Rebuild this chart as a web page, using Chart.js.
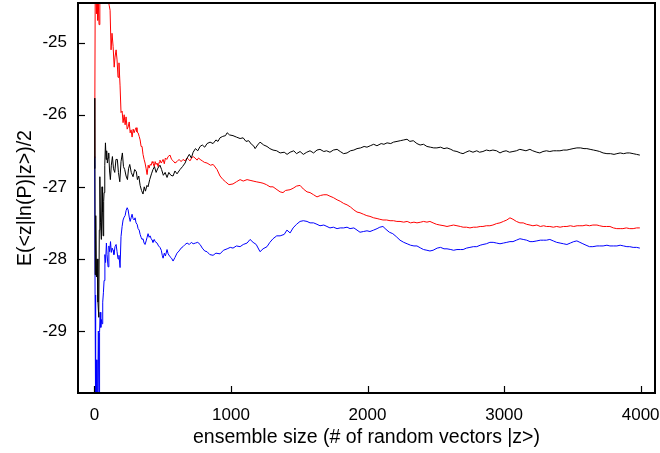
<!DOCTYPE html>
<html>
<head>
<meta charset="utf-8">
<script src="https://cdn.jsdelivr.net/npm/chart.js@4/dist/chart.umd.min.js"></script>
<style>
html,body{margin:0;padding:0;background:#fff;}
#c{display:block;}
</style>
</head>
<body>
<canvas id="c" width="660" height="453"></canvas>
<script>
// ---- data (x = ensemble size, y = running estimate) ----
const xTicks = [0, 1000, 2000, 3000, 4000];
const yTicks = [-29, -28, -27, -26, -25];
const xTitle = 'ensemble size (# of random vectors |z>)';
const yTitle = 'E(<z|ln(P)|z>)/2';

const blackPoints = [[1,-26.75],[3,-25.77],[6,-28.22],[10,-27.4],[15,-28.25],[20,-28.0],[26,-28.6],[32,-28.81],[36,-27.6],[40,-26.86],[45,-27.5],[51,-27.73],[56,-27.0],[60,-27.35],[64,-27.68],[68,-27.2],[71,-27.08],[76,-26.7],[81,-26.39],[86,-26.62],[90,-26.5],[95,-26.67],[100,-26.6],[105,-26.53],[111,-26.78],[117,-26.9],[124,-26.7],[132,-26.58],[140,-26.75],[149,-26.8],[158,-26.62],[168,-26.62],[176,-26.8],[186,-26.93],[195,-26.65],[205,-26.53],[213,-26.72],[222,-26.76],[232,-26.85],[242,-26.9],[250,-26.75],[259,-26.69],[270,-26.8],[283,-26.86],[295,-26.76],[307,-26.79],[315,-26.9],[325,-26.85],[335,-26.98],[345,-27.05],[356,-27.1],[365,-27.0],[374,-27.06],[385,-26.98],[393,-27.0],[405,-26.9],[418,-26.82],[429,-26.76],[440,-26.72],[452,-26.8],[465,-26.74],[480,-26.7],[492,-26.76],[505,-26.84],[518,-26.8],[532,-26.87],[545,-26.8],[560,-26.84],[576,-26.85],[590,-26.78],[605,-26.82],[627,-26.76],[645,-26.72],[664,-26.67],[679,-26.6],[695,-26.55],[710,-26.6],[723,-26.52],[740,-26.47],[757,-26.5],[774,-26.44],[790,-26.42],[808,-26.45],[825,-26.4],[847,-26.38],[869,-26.4],[890,-26.35],[905,-26.37],[920,-26.32],[940,-26.3],[960,-26.29],[972,-26.25],[990,-26.28],[1015,-26.29],[1040,-26.31],[1067,-26.33],[1089,-26.32],[1110,-26.37],[1130,-26.36],[1150,-26.41],[1165,-26.43],[1177,-26.47],[1195,-26.42],[1213,-26.38],[1240,-26.42],[1264,-26.44],[1285,-26.47],[1308,-26.49],[1335,-26.5],[1360,-26.53],[1390,-26.52],[1411,-26.55],[1433,-26.52],[1460,-26.5],[1480,-26.54],[1506,-26.51],[1530,-26.55],[1555,-26.52],[1579,-26.5],[1605,-26.53],[1630,-26.49],[1652,-26.48],[1680,-26.51],[1700,-26.5],[1725,-26.52],[1750,-26.49],[1777,-26.48],[1800,-26.51],[1825,-26.54],[1850,-26.53],[1875,-26.5],[1900,-26.49],[1923,-26.47],[1950,-26.46],[1975,-26.44],[1996,-26.45],[2020,-26.43],[2045,-26.41],[2069,-26.43],[2100,-26.4],[2120,-26.41],[2143,-26.39],[2170,-26.4],[2190,-26.38],[2216,-26.37],[2240,-26.36],[2265,-26.35],[2289,-26.34],[2310,-26.37],[2335,-26.36],[2362,-26.4],[2385,-26.42],[2410,-26.41],[2435,-26.44],[2460,-26.45],[2485,-26.46],[2508,-26.46],[2535,-26.45],[2560,-26.47],[2582,-26.46],[2610,-26.48],[2630,-26.5],[2655,-26.51],[2680,-26.53],[2699,-26.54],[2720,-26.52],[2745,-26.5],[2772,-26.52],[2800,-26.5],[2820,-26.52],[2845,-26.51],[2870,-26.49],[2895,-26.5],[2918,-26.49],[2945,-26.5],[2970,-26.53],[2992,-26.51],[3015,-26.5],[3040,-26.52],[3065,-26.51],[3090,-26.5],[3115,-26.48],[3138,-26.49],[3160,-26.5],[3189,-26.48],[3210,-26.5],[3240,-26.52],[3262,-26.53],[3285,-26.51],[3310,-26.5],[3335,-26.51],[3360,-26.5],[3385,-26.5],[3409,-26.5],[3435,-26.49],[3460,-26.49],[3482,-26.48],[3505,-26.47],[3533,-26.46],[3560,-26.46],[3585,-26.47],[3606,-26.47],[3630,-26.48],[3655,-26.49],[3680,-26.5],[3700,-26.51],[3725,-26.53],[3753,-26.54],[3780,-26.54],[3805,-26.55],[3826,-26.54],[3850,-26.53],[3875,-26.54],[3899,-26.53],[3920,-26.53],[3945,-26.54],[3970,-26.55],[3994,-26.56]];

const redPoints = [[1,-26.6],[3,-26.05],[6,-24.3],[10,-24.2],[15,-24.6],[20,-24.3],[24,-24.69],[28,-24.4],[34,-24.75],[40,-24.3],[46,-24.2],[56,-24.25],[65,-24.3],[75,-24.2],[85,-24.35],[93,-24.3],[100,-24.4],[108,-24.48],[115,-24.55],[122,-25.1],[129,-24.87],[137,-25.05],[145,-25.34],[151,-25.2],[159,-25.1],[166,-25.24],[173,-25.48],[180,-25.28],[188,-25.6],[195,-25.97],[203,-25.95],[210,-26.11],[218,-26.0],[225,-26.14],[232,-26.03],[240,-26.2],[247,-26.17],[255,-26.1],[262,-26.25],[269,-26.21],[276,-26.31],[284,-26.2],[291,-26.25],[298,-26.21],[305,-26.18],[312,-26.24],[320,-26.25],[328,-26.3],[335,-26.35],[342,-26.44],[349,-26.44],[356,-26.55],[364,-26.62],[371,-26.67],[379,-26.75],[386,-26.83],[394,-26.7],[401,-26.74],[408,-26.69],[416,-26.7],[423,-26.65],[429,-26.67],[438,-26.72],[445,-26.65],[452,-26.69],[459,-26.67],[467,-26.72],[474,-26.66],[480,-26.63],[490,-26.67],[503,-26.62],[512,-26.68],[520,-26.6],[530,-26.62],[540,-26.58],[554,-26.56],[565,-26.62],[577,-26.64],[590,-26.67],[605,-26.65],[620,-26.62],[635,-26.65],[649,-26.62],[664,-26.64],[679,-26.6],[690,-26.62],[700,-26.64],[712,-26.6],[723,-26.58],[737,-26.6],[752,-26.63],[763,-26.6],[774,-26.62],[790,-26.64],[805,-26.66],[825,-26.67],[850,-26.7],[870,-26.69],[898,-26.76],[920,-26.85],[942,-26.9],[960,-26.93],[985,-26.97],[1015,-26.96],[1040,-26.93],[1067,-26.9],[1090,-26.92],[1118,-26.9],[1140,-26.91],[1162,-26.92],[1185,-26.93],[1213,-26.94],[1235,-26.95],[1260,-26.97],[1286,-27.0],[1308,-27.0],[1330,-27.03],[1360,-27.07],[1381,-27.08],[1400,-27.05],[1433,-27.04],[1455,-27.02],[1480,-26.99],[1506,-26.98],[1530,-27.03],[1557,-27.07],[1579,-27.08],[1605,-27.11],[1630,-27.14],[1655,-27.12],[1680,-27.11],[1703,-27.11],[1725,-27.13],[1750,-27.15],[1777,-27.18],[1800,-27.2],[1825,-27.23],[1850,-27.25],[1875,-27.28],[1900,-27.32],[1923,-27.35],[1945,-27.36],[1970,-27.38],[1995,-27.4],[2018,-27.41],[2045,-27.43],[2070,-27.44],[2090,-27.45],[2113,-27.46],[2140,-27.46],[2165,-27.47],[2190,-27.47],[2215,-27.48],[2238,-27.48],[2265,-27.49],[2290,-27.48],[2315,-27.5],[2340,-27.49],[2362,-27.5],[2390,-27.49],[2410,-27.48],[2435,-27.49],[2457,-27.48],[2480,-27.5],[2505,-27.52],[2530,-27.53],[2560,-27.54],[2582,-27.55],[2605,-27.54],[2630,-27.53],[2655,-27.54],[2680,-27.55],[2700,-27.56],[2725,-27.56],[2750,-27.57],[2775,-27.56],[2800,-27.56],[2825,-27.55],[2845,-27.55],[2870,-27.54],[2896,-27.54],[2918,-27.53],[2945,-27.51],[2970,-27.5],[2995,-27.48],[3020,-27.46],[3043,-27.43],[3065,-27.45],[3090,-27.48],[3116,-27.5],[3140,-27.5],[3165,-27.52],[3190,-27.53],[3211,-27.54],[3240,-27.53],[3265,-27.55],[3290,-27.54],[3310,-27.55],[3335,-27.55],[3360,-27.56],[3385,-27.55],[3410,-27.56],[3435,-27.55],[3460,-27.55],[3485,-27.54],[3510,-27.55],[3535,-27.54],[3555,-27.54],[3577,-27.54],[3600,-27.53],[3625,-27.54],[3650,-27.53],[3680,-27.53],[3700,-27.54],[3725,-27.55],[3750,-27.55],[3775,-27.55],[3800,-27.57],[3825,-27.58],[3850,-27.58],[3870,-27.58],[3895,-27.57],[3920,-27.58],[3945,-27.58],[3970,-27.57],[3994,-27.57]];

const bluePoints = [[1,-26.58],[2,-26.74],[5,-28.5],[9,-30.2],[14,-29.4],[19,-30.3],[24,-29.9],[29,-29.0],[34,-30.2],[38,-29.02],[42,-28.74],[47,-28.95],[51,-28.84],[56,-28.9],[61,-28.6],[66,-28.47],[71,-28.3],[77,-27.94],[82,-28.05],[88,-27.78],[93,-27.94],[100,-28.11],[106,-27.82],[112,-27.9],[118,-27.76],[124,-27.91],[130,-27.85],[137,-27.88],[143,-27.94],[151,-27.83],[159,-27.8],[166,-27.9],[173,-28.0],[180,-27.95],[188,-28.12],[195,-27.69],[203,-27.55],[210,-27.46],[218,-27.42],[225,-27.4],[232,-27.33],[240,-27.29],[247,-27.32],[255,-27.42],[262,-27.48],[269,-27.43],[276,-27.38],[283,-27.44],[291,-27.46],[298,-27.43],[305,-27.5],[313,-27.52],[320,-27.58],[328,-27.6],[335,-27.66],[342,-27.7],[349,-27.73],[356,-27.72],[364,-27.78],[371,-27.8],[379,-27.75],[386,-27.7],[393,-27.65],[401,-27.7],[408,-27.68],[416,-27.72],[423,-27.74],[429,-27.77],[438,-27.73],[445,-27.76],[459,-27.78],[470,-27.82],[480,-27.84],[490,-27.88],[497,-27.95],[503,-27.99],[512,-27.92],[520,-27.96],[532,-27.87],[540,-27.93],[554,-27.97],[565,-27.99],[576,-28.03],[590,-27.98],[605,-27.92],[620,-27.89],[635,-27.85],[649,-27.83],[664,-27.8],[679,-27.78],[695,-27.8],[710,-27.77],[723,-27.79],[740,-27.78],[757,-27.77],[774,-27.8],[790,-27.85],[808,-27.89],[825,-27.9],[845,-27.94],[869,-27.95],[890,-27.92],[920,-27.93],[945,-27.88],[972,-27.86],[995,-27.84],[1015,-27.85],[1040,-27.82],[1067,-27.83],[1090,-27.8],[1118,-27.78],[1140,-27.73],[1162,-27.77],[1185,-27.8],[1213,-27.9],[1235,-27.86],[1264,-27.83],[1285,-27.77],[1308,-27.72],[1335,-27.68],[1360,-27.68],[1390,-27.66],[1410,-27.6],[1433,-27.64],[1455,-27.57],[1480,-27.52],[1506,-27.48],[1530,-27.47],[1557,-27.48],[1579,-27.5],[1605,-27.5],[1630,-27.52],[1652,-27.54],[1680,-27.53],[1703,-27.55],[1725,-27.57],[1750,-27.56],[1777,-27.58],[1800,-27.57],[1825,-27.57],[1850,-27.56],[1872,-27.58],[1900,-27.57],[1923,-27.6],[1945,-27.63],[1970,-27.62],[1996,-27.61],[2018,-27.62],[2045,-27.6],[2070,-27.58],[2090,-27.56],[2113,-27.55],[2135,-27.59],[2160,-27.63],[2185,-27.65],[2210,-27.69],[2238,-27.74],[2265,-27.77],[2290,-27.79],[2315,-27.81],[2340,-27.82],[2362,-27.82],[2390,-27.85],[2410,-27.87],[2435,-27.88],[2457,-27.89],[2480,-27.88],[2510,-27.85],[2535,-27.84],[2560,-27.86],[2582,-27.86],[2610,-27.87],[2630,-27.88],[2655,-27.87],[2680,-27.87],[2700,-27.87],[2725,-27.85],[2750,-27.84],[2775,-27.83],[2800,-27.83],[2825,-27.81],[2845,-27.8],[2870,-27.79],[2896,-27.77],[2920,-27.77],[2945,-27.78],[2970,-27.79],[2995,-27.78],[3020,-27.77],[3043,-27.76],[3065,-27.76],[3090,-27.74],[3116,-27.72],[3140,-27.73],[3165,-27.74],[3190,-27.76],[3211,-27.76],[3240,-27.75],[3265,-27.74],[3290,-27.74],[3310,-27.74],[3335,-27.73],[3360,-27.75],[3385,-27.77],[3410,-27.78],[3435,-27.79],[3460,-27.8],[3485,-27.78],[3510,-27.76],[3533,-27.75],[3555,-27.77],[3577,-27.79],[3600,-27.81],[3625,-27.83],[3650,-27.83],[3680,-27.82],[3700,-27.82],[3725,-27.82],[3753,-27.81],[3775,-27.82],[3800,-27.82],[3826,-27.82],[3850,-27.81],[3875,-27.82],[3899,-27.83],[3920,-27.83],[3945,-27.84],[3970,-27.84],[3994,-27.85]];

// ---- chart ----
const FONT = '"Liberation Sans", Arial, Helvetica, sans-serif';
const toXY = pts => pts.map(p => ({x: p[0], y: p[1]}));

const framePlugin = {
  id: 'frame',
  afterDatasetsDraw(chart) {
    const {ctx, chartArea: a, scales: {x, y}} = chart;
    ctx.save();
    ctx.strokeStyle = '#000';
    ctx.lineWidth = 1.2;
    xTicks.forEach(v => {
      const px = Math.round(x.getPixelForValue(v)) + 0.5;
      ctx.beginPath(); ctx.moveTo(px, a.bottom); ctx.lineTo(px, a.bottom - 7); ctx.stroke();
    });
    yTicks.forEach(v => {
      const py = Math.round(y.getPixelForValue(v)) + 0.5;
      ctx.beginPath(); ctx.moveTo(a.left, py); ctx.lineTo(a.left + 7, py); ctx.stroke();
    });
    ctx.lineWidth = 2;
    ctx.strokeRect(a.left, a.top, a.right - a.left, a.bottom - a.top);
    ctx.restore();
  }
};

const ds = (pts, color) => ({
  data: toXY(pts), borderColor: color, borderWidth: 1, pointRadius: 0,
  tension: 0, fill: false
});

new Chart(document.getElementById('c'), {
  type: 'line',
  data: {
    datasets: [
      ds(blackPoints, '#000000'),
      ds(redPoints, '#ff0000'),
      ds(bluePoints, '#0000ff')
    ]
  },
  options: {
    responsive: false,
    animation: false,
    devicePixelRatio: 1,
    layout: {padding: {top: 3, right: 5, left: 0, bottom: 0}},
    plugins: {legend: {display: false}, tooltip: {enabled: false}},
    scales: {
      x: {
        type: 'linear', min: -120, max: 4105,
        afterBuildTicks: s => { s.ticks = xTicks.map(v => ({value: v})); },
        afterFit: s => { s.height = 60; s.paddingLeft = 0; s.paddingRight = 0; },
        grid: {display: false, drawTicks: false},
        border: {display: false},
        ticks: {color: '#000', font: {family: FONT, size: 17}, padding: 12, maxRotation: 0,
                callback: v => String(v)},
        title: {display: true, text: xTitle, color: '#000',
                font: {family: FONT, size: 19.5}, padding: {top: 0, bottom: 4}}
      },
      y: {
        type: 'linear', min: -29.86, max: -24.45,
        afterBuildTicks: s => { s.ticks = yTicks.map(v => ({value: v})); },
        afterFit: s => { s.width = 78; s.paddingTop = 0; s.paddingBottom = 0; },
        grid: {display: false, drawTicks: false},
        border: {display: false},
        ticks: {color: '#000', font: {family: FONT, size: 17}, padding: 11,
                callback: v => String(v)},
        title: {display: true, text: yTitle, color: '#000',
                font: {family: FONT, size: 19.5}, padding: {top: 14, bottom: 0}}
      }
    }
  },
  plugins: [framePlugin]
});
</script>
</body>
</html>
